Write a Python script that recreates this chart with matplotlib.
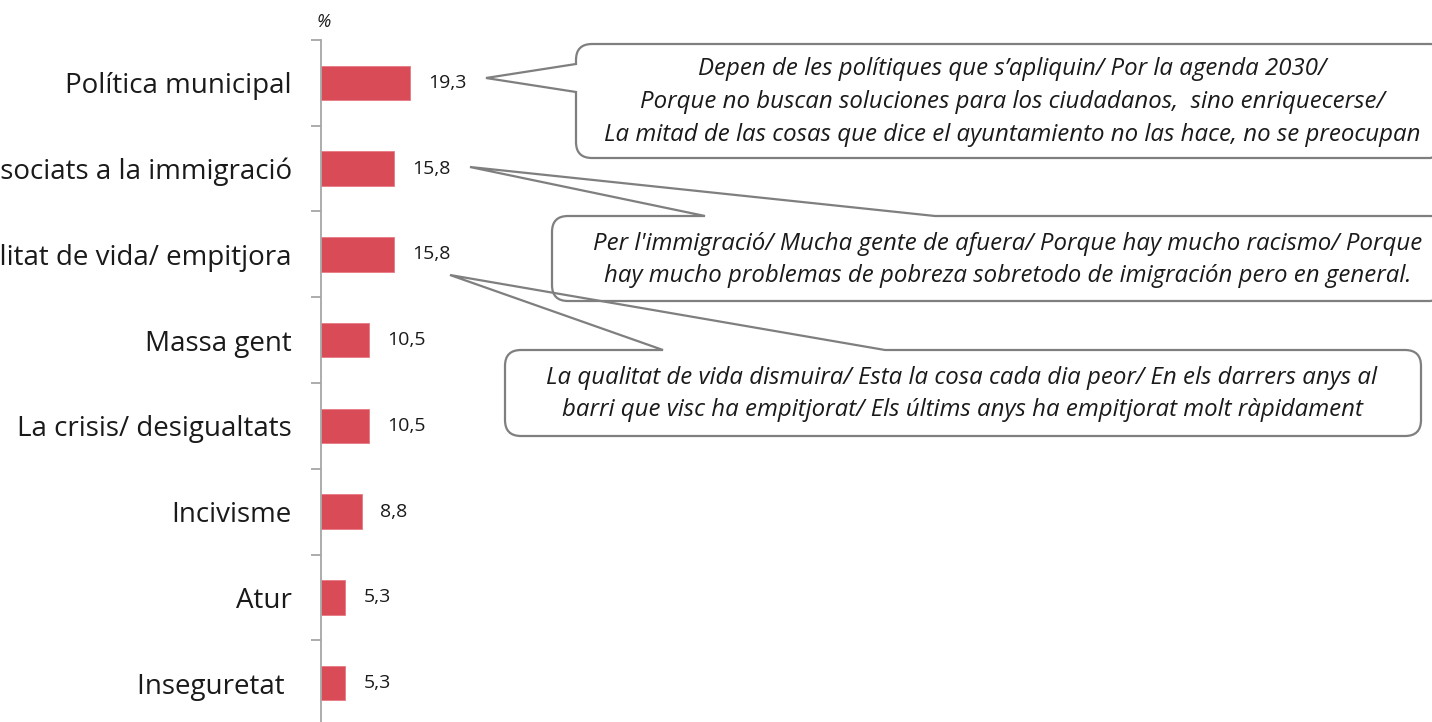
import matplotlib.pyplot as plt
from matplotlib.path import Path
from matplotlib.patches import PathPatch, FancyBboxPatch

plt.rcParams['font.family'] = ['Open Sans', 'DejaVu Sans']

categories = ['Política municipal', 'Problemes associats a la immigració',
              'La qualitat de vida/ empitjora', 'Massa gent',
              'La crisis/ desigualtats', 'Incivisme', 'Atur', 'Inseguretat ']
values = [19.3, 15.8, 15.8, 10.5, 10.5, 8.8, 5.3, 5.3]

callout_texts = [
    "Depen de les polítiques que s’apliquin/ Por la agenda 2030/\n"
    "Porque no buscan soluciones para los ciudadanos,  sino enriquecerse/\n"
    "La mitad de las cosas que dice el ayuntamiento no las hace, no se preocupan",
    "Per l'immigració/ Mucha gente de afuera/ Porque hay mucho racismo/ Porque\n"
    "hay mucho problemas de pobreza sobretodo de imigración pero en general.",
    "La qualitat de vida dismuira/ Esta la cosa cada dia peor/ En els darrers anys al\n"
    "barri que visc ha empitjorat/ Els últims anys ha empitjorat molt ràpidament",
]

W, H = 1432, 722
fig = plt.figure(figsize=(W / 100, H / 100), dpi=100)

# bar axes: left spine at x=321px, top at y=40px
ax = fig.add_axes([321 / W, 1 - 726 / H, 1 - 321 / W, 686 / H])
y = list(range(len(categories)))
ax.barh(y, values, height=0.4, color='#d94b57', edgecolor='#e87a84', linewidth=0.6)
ax.set_xlim(0, (W - 321) / 4.61)
ax.set_ylim(len(categories) - 0.5, -0.5)

for yi, v in zip(y, values):
    ax.annotate(f'{v:.1f}'.replace('.', ','), (v, yi), xytext=(13, 0),
                textcoords='offset points', va='center', ha='left',
                fontsize=14, color='#1a1a1a')

for s in ['top', 'right', 'bottom']:
    ax.spines[s].set_visible(False)
ax.spines['left'].set_color('#a6a6a6')
ax.spines['left'].set_linewidth(1.3)
ax.set_xticks([])
ax.set_yticks(y)
ax.set_yticklabels(categories, fontsize=20, color='#1a1a1a')
ax.tick_params(axis='y', which='major', length=0, pad=21)
ax.set_yticks([i - 0.5 for i in range(len(categories) + 1)], minor=True)
ax.tick_params(axis='y', which='minor', length=7, width=1.3, color='#a6a6a6')
ax.patch.set_alpha(0)

fig.text(317 / W, 1 - 22 / H, '%', fontsize=13, style='italic', color='#1a1a1a',
         ha='left', va='center')

# overlay in pixel coordinates for callouts
ov = fig.add_axes([0, 0, 1, 1])
ov.set_xlim(0, W)
ov.set_ylim(H, 0)
ov.axis('off')
ov.patch.set_alpha(0)


def callout(x0, y0, x1, y1, r, side, a, b, tip):
    verts = [(x0 + r, y0)]
    codes = [Path.MOVETO]
    if side == 'top':
        verts += [(a, y0), tip, (b, y0)]
        codes += [Path.LINETO] * 3
    verts += [(x1 - r, y0), (x1, y0), (x1, y0 + r), (x1, y1 - r), (x1, y1), (x1 - r, y1),
              (x0 + r, y1), (x0, y1), (x0, y1 - r)]
    codes += [Path.LINETO, Path.CURVE3, Path.CURVE3, Path.LINETO, Path.CURVE3, Path.CURVE3,
              Path.LINETO, Path.CURVE3, Path.CURVE3]
    if side == 'left':
        verts += [(x0, b), tip, (x0, a)]
        codes += [Path.LINETO] * 3
    verts += [(x0, y0 + r), (x0, y0), (x0 + r, y0)]
    codes += [Path.LINETO, Path.CURVE3, Path.CURVE3]
    ov.add_patch(FancyBboxPatch((x0, y0), x1 - x0, y1 - y0,
                                boxstyle=f'round,pad=0,rounding_size={r}',
                                facecolor='white', edgecolor='none', zorder=2))
    ov.add_patch(PathPatch(Path(verts, codes), facecolor='none',
                           edgecolor='#7f7f7f', linewidth=1.6, zorder=3))


callout(576, 44, 1446, 158, 16, 'left', 64, 92, (486, 78))
callout(552, 216, 1446, 301, 16, 'top', 705, 935, (470, 167))
callout(505, 350, 1421, 436, 16, 'top', 663, 885, (450, 275))

text_pos = [(1012, 102, 1.5), (1008, 260, 1.41), (962, 394, 1.42)]
for (tx, ty, ls), t in zip(text_pos, callout_texts):
    ov.text(tx, ty, t, ha='center', va='center', fontsize=17.3, style='italic',
            color='#1a1a1a', linespacing=ls, zorder=4)

fig.savefig('out.png', dpi=100)
